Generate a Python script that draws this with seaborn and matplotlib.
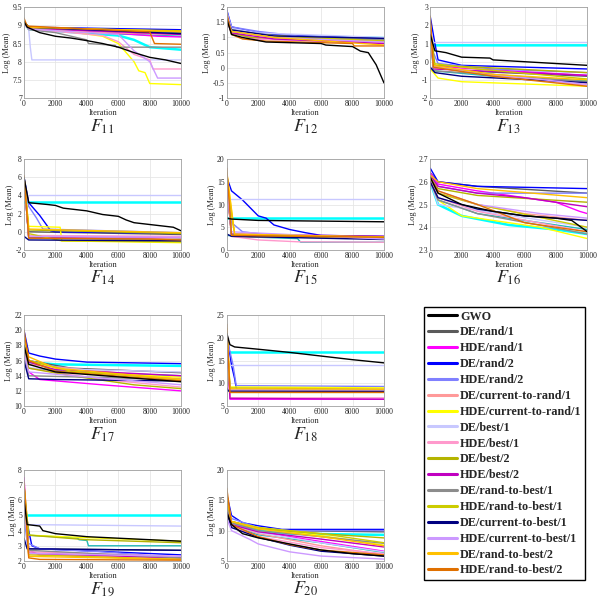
import matplotlib
matplotlib.use("Agg")
import matplotlib.pyplot as plt
from matplotlib.lines import Line2D
from matplotlib.ticker import FormatStrFormatter
import seaborn as sns
import pandas as pd
import numpy as np

SERIES = ["GWO", "DE/rand/1", "HDE/rand/1", "DE/rand/2", "HDE/rand/2",
          "DE/current-to-rand/1", "HDE/current-to-rand/1", "DE/best/1",
          "HDE/best/1", "DE/best/2", "HDE/best/2", "DE/rand-to-best/1",
          "HDE/rand-to-best/1", "DE/current-to-best/1", "HDE/current-to-best/1",
          "DE/rand-to-best/2", "HDE/rand-to-best/2", "extra-1", "extra-2"]
COLORS = ["#000000", "#5a5a5a", "#ff00ff", "#0000ff", "#8080ff",
          "#ff9999", "#ffff00", "#c8c8ff", "#ff99cc", "#b4b400",
          "#c000c0", "#8c8c8c", "#cccc00", "#000080", "#cc99ff",
          "#ffc000", "#e07000", "#00ffff", "#20b8b8"]
WIDTHS = [1.0, 1.0, 1.0, 1.0, 1.0, 1.0, 1.0, 1.0, 1.0, 1.0,
          1.0, 1.0, 1.0, 1.0, 1.0, 1.0, 1.0, 1.8, 1.0]

# curves: (iteration, log mean) breakpoints, same order as SERIES
F11 = [
    [(0, 9.1), (200, 8.95), (1000, 8.8), (2000, 8.7), (3000, 8.65), (4000, 8.58), (5000, 8.5), (6000, 8.4), (7000, 8.25), (8000, 8.12), (9000, 8.05), (10000, 7.95)],
    [(0, 9.1), (300, 8.95), (2000, 8.9), (10000, 8.8)],
    [(0, 9.1), (300, 8.92), (3000, 8.85), (6000, 8.78), (8500, 8.7), (10000, 8.68)],
    [(0, 9.1), (300, 8.95), (10000, 8.88)],
    [(0, 9.1), (300, 8.9), (4000, 8.85), (10000, 8.78)],
    [(0, 9.1), (300, 8.9), (5000, 8.8), (10000, 8.75)],
    [(0, 9.1), (300, 8.9), (3000, 8.82), (5000, 8.7), (6000, 8.5), (7000, 8.0), (7300, 7.75), (7700, 7.7), (8000, 7.4), (10000, 7.37)],
    [(0, 9.0), (300, 8.9), (400, 8.4), (500, 8.05), (10000, 8.05)],
    [(0, 9.1), (300, 8.9), (5000, 8.72), (6000, 8.55), (7000, 8.2), (8000, 8.05), (8200, 7.8), (10000, 7.8)],
    [(0, 9.1), (300, 8.95), (10000, 8.82)],
    [(0, 9.1), (300, 8.92), (10000, 8.75)],
    [(0, 9.1), (300, 8.88), (2000, 8.8), (4000, 8.6), (4100, 8.5), (5800, 8.45), (5900, 8.4), (10000, 8.4)],
    [(0, 9.1), (300, 8.93), (10000, 8.85)],
    [(0, 9.1), (300, 8.95), (10000, 8.77)],
    [(0, 9.1), (300, 8.9), (6000, 8.75), (7000, 8.3), (8000, 8.0), (8500, 7.55), (10000, 7.55)],
    [(0, 9.1), (300, 8.95), (10000, 8.83)],
    [(0, 9.2), (200, 8.98), (5000, 8.88), (8000, 8.82), (8300, 8.5), (10000, 8.48)],
    [(0, 9.1), (300, 8.9), (6000, 8.72), (7000, 8.6), (8000, 8.4), (10000, 8.33)],
    [(0, 9.1), (300, 8.9), (5000, 8.78), (10000, 8.7)],
]
F12 = [
    [(0, 1.6), (300, 1.1), (1000, 1.0), (2500, 0.85), (6000, 0.8), (6300, 0.75), (8000, 0.7), (8500, 0.55), (9000, 0.5), (9500, 0.1), (10000, -0.5)],
    [(0, 1.8), (300, 1.3), (2000, 1.1), (10000, 0.95)],
    [(0, 1.6), (300, 1.15), (2000, 0.95), (10000, 0.85)],
    [(0, 1.9), (300, 1.35), (2000, 1.15), (5000, 1.05), (10000, 0.97)],
    [(0, 1.9), (300, 1.35), (2000, 1.2), (4500, 1.05), (10000, 0.95)],
    [(0, 1.6), (300, 1.2), (3000, 1.0), (10000, 0.85)],
    [(0, 1.7), (300, 1.25), (3000, 1.05), (10000, 0.9)],
    [(0, 1.8), (300, 1.3), (2000, 1.15), (10000, 1.0)],
    [(0, 1.6), (300, 1.15), (2000, 0.95), (10000, 0.8)],
    [(0, 1.6), (300, 1.15), (1500, 1.0), (10000, 0.9)],
    [(0, 1.6), (300, 1.15), (3000, 0.95), (10000, 0.8)],
    [(0, 1.7), (300, 1.2), (3000, 1.02), (10000, 0.92)],
    [(0, 1.6), (300, 1.2), (3000, 1.05), (10000, 0.88)],
    [(0, 1.7), (300, 1.25), (3000, 1.05), (10000, 0.97)],
    [(0, 1.7), (300, 1.2), (3000, 1.0), (10000, 0.85)],
    [(0, 1.6), (300, 1.2), (3000, 1.0), (10000, 0.75)],
    [(0, 1.8), (300, 1.1), (1000, 0.95), (2500, 0.88), (8000, 0.8), (8100, 0.72), (10000, 0.72)],
    [(0, 1.7), (300, 1.25), (3000, 1.05), (10000, 0.98)],
    [(0, 1.7), (300, 1.2), (3000, 1.0), (10000, 0.9)],
]
F13 = [
    [(0, 1.5), (300, 0.6), (1000, 0.5), (2000, 0.25), (3800, 0.2), (4000, 0.1), (10000, -0.2)],
    [(0, 2.0), (200, -0.3), (2000, -0.5), (10000, -0.8)],
    [(0, 2.0), (200, -0.2), (2000, -0.35), (10000, -0.75)],
    [(0, 2.5), (300, 1.0), (500, 0.1), (2000, -0.2), (10000, -0.4)],
    [(0, 2.0), (200, 0.5), (500, -0.1), (4000, -0.4), (10000, -0.6)],
    [(0, 2.0), (200, -0.3), (4000, -0.7), (10000, -1.2)],
    [(0, -0.4), (500, -0.9), (2000, -1.1), (10000, -1.35)],
    [(0, 1.1), (10000, 1.1)],
    [(0, 2.0), (200, -0.3), (4000, -0.75), (10000, -1.3)],
    [(0, 2.0), (300, -0.2), (3000, -0.3), (10000, -0.6)],
    [(0, 2.0), (200, -0.4), (3000, -0.5), (10000, -0.75)],
    [(0, 2.0), (200, -0.5), (4000, -0.7), (10000, -1.1)],
    [(0, 2.0), (200, -0.1), (3000, -0.4), (10000, -0.95)],
    [(0, -0.3), (300, -0.6), (2000, -0.8), (10000, -1.15)],
    [(0, 2.0), (200, -0.3), (4000, -0.7), (10000, -1.25)],
    [(0, 2.3), (200, -0.2), (4000, -0.7), (10000, -1.0)],
    [(0, 2.5), (200, -0.3), (4000, -0.8), (10000, -1.35)],
    [(0, 1.5), (100, 0.9), (10000, 0.9)],
    [(0, 1.8), (200, -0.5), (4000, -0.8), (10000, -1.05)],
]
F14 = [
    [(0, 6.0), (300, 3.2), (1500, 3.0), (2000, 2.9), (2500, 2.6), (4000, 2.3), (5000, 1.9), (6000, 1.7), (6500, 1.3), (7000, 1.0), (8000, 0.8), (9500, 0.5), (10000, 0.1)],
    [(0, 6.0), (300, 0.0), (10000, -0.3)],
    [(0, 6.0), (300, -0.5), (10000, -0.6)],
    [(0, 6.0), (300, 3.2), (1000, 1.8), (1500, 0.6), (1700, 0.1), (2000, 0.0), (10000, -0.2)],
    [(0, 6.0), (300, 2.8), (800, 1.5), (1200, 0.3), (10000, -0.1)],
    [(0, 6.0), (300, -0.6), (10000, -0.8)],
    [(0, 6.0), (300, 0.6), (2300, 0.5), (2400, -1.0), (10000, -1.2)],
    [(0, 4.0), (10000, 4.0)],
    [(0, 6.0), (300, -0.4), (10000, -0.5)],
    [(0, 6.0), (300, 0.2), (10000, -0.2)],
    [(0, 6.0), (300, -0.6), (10000, -0.9)],
    [(0, 6.0), (300, -0.7), (10000, -0.9)],
    [(0, 6.0), (300, -0.2), (2400, -1.0), (10000, -1.1)],
    [(0, -0.5), (300, -0.9), (10000, -1.0)],
    [(0, 6.0), (300, -0.5), (10000, -0.6)],
    [(0, 6.0), (300, 0.3), (10000, -0.1)],
    [(0, 6.2), (300, -0.7), (8000, -0.8), (10000, -0.9)],
    [(0, 3.3), (10000, 3.3)],
    [(0, 6.0), (300, -0.6), (10000, -0.7)],
]
F15 = [
    [(0, 7.0), (300, 6.8), (2000, 6.5), (10000, 6.2)],
    [(0, 15.0), (300, 3.0), (10000, 2.6)],
    [(0, 15.0), (300, 3.2), (10000, 2.8)],
    [(0, 16.0), (300, 13.0), (1000, 11.0), (2000, 7.5), (2500, 7.0), (3000, 5.5), (4000, 4.5), (5000, 3.8), (6000, 3.2), (10000, 3.0)],
    [(0, 12.0), (300, 6.0), (1000, 4.0), (3000, 3.2), (10000, 2.6)],
    [(0, 14.0), (300, 3.0), (10000, 2.5)],
    [(0, 17.0), (500, 3.0), (10000, 2.7)],
    [(0, 11.2), (10000, 11.2)],
    [(0, 15.0), (300, 3.0), (2000, 2.2), (4500, 1.8), (10000, 1.7)],
    [(0, 15.0), (300, 3.2), (10000, 2.7)],
    [(0, 15.0), (300, 3.5), (10000, 3.0)],
    [(0, 15.0), (300, 3.3), (10000, 2.7)],
    [(0, 15.0), (500, 3.3), (10000, 2.9)],
    [(0, 3.5), (300, 3.0), (10000, 2.3)],
    [(0, 14.0), (300, 4.0), (10000, 2.4)],
    [(0, 17.0), (500, 3.5), (10000, 2.8)],
    [(0, 18.0), (300, 3.2), (10000, 2.8)],
    [(0, 7.0), (10000, 7.0)],
    [(0, 3.2), (2000, 2.8), (4500, 2.5), (4700, 1.7), (10000, 1.7)],
]
F16 = [
    [(0, 2.62), (500, 2.55), (2000, 2.5), (4000, 2.47), (6000, 2.45), (8000, 2.44), (9000, 2.43), (10000, 2.38)],
    [(0, 2.64), (500, 2.6), (3000, 2.58), (10000, 2.55)],
    [(0, 2.64), (500, 2.59), (3000, 2.56), (6000, 2.53), (8000, 2.51), (9500, 2.47), (10000, 2.46)],
    [(0, 2.66), (500, 2.6), (3000, 2.58), (10000, 2.57)],
    [(0, 2.63), (500, 2.58), (3000, 2.55), (10000, 2.55)],
    [(0, 2.62), (500, 2.55), (3000, 2.5), (6000, 2.46), (10000, 2.43)],
    [(0, 2.6), (500, 2.52), (2000, 2.45), (4000, 2.43), (7000, 2.4), (10000, 2.35)],
    [(0, 2.6), (500, 2.5), (10000, 2.4)],
    [(0, 2.61), (500, 2.53), (3000, 2.47), (10000, 2.38)],
    [(0, 2.62), (500, 2.57), (3000, 2.54), (10000, 2.51)],
    [(0, 2.63), (500, 2.58), (3000, 2.55), (6000, 2.53), (10000, 2.49)],
    [(0, 2.6), (500, 2.52), (3000, 2.46), (10000, 2.37)],
    [(0, 2.62), (500, 2.55), (3000, 2.5), (10000, 2.4)],
    [(0, 2.6), (500, 2.53), (3000, 2.48), (6000, 2.45), (10000, 2.43)],
    [(0, 2.62), (500, 2.56), (3000, 2.5), (7000, 2.46), (10000, 2.44)],
    [(0, 2.63), (500, 2.6), (3000, 2.57), (10000, 2.53)],
    [(0, 2.62), (500, 2.56), (3000, 2.5), (6000, 2.42), (10000, 2.38)],
    [(0, 2.6), (500, 2.5), (2000, 2.45), (5000, 2.41), (8000, 2.39), (10000, 2.37)],
    [(0, 2.61), (500, 2.52), (3000, 2.46), (10000, 2.39)],
]
F17 = [
    [(0, 18.0), (300, 15.5), (2000, 14.5), (10000, 13.2)],
    [(0, 18.0), (300, 16.0), (3000, 15.0), (10000, 14.4)],
    [(0, 17.0), (300, 14.5), (1000, 13.5), (5000, 12.8), (10000, 12.0)],
    [(0, 20.0), (300, 17.0), (1000, 16.6), (2000, 16.2), (4000, 15.8), (10000, 15.6)],
    [(0, 18.0), (300, 16.0), (2000, 15.2), (10000, 13.4)],
    [(0, 17.0), (300, 15.5), (10000, 13.6)],
    [(0, 18.0), (300, 16.0), (3000, 14.5), (10000, 13.8)],
    [(0, 17.0), (300, 15.0), (10000, 14.5)],
    [(0, 17.0), (300, 15.0), (5000, 13.5), (10000, 12.5)],
    [(0, 17.0), (300, 15.0), (3000, 14.0), (7000, 12.8), (10000, 12.3)],
    [(0, 18.0), (300, 15.8), (2000, 14.8), (10000, 14.0)],
    [(0, 17.0), (300, 14.0), (10000, 13.5)],
    [(0, 18.0), (300, 16.0), (3000, 14.6), (10000, 13.5)],
    [(0, 16.0), (300, 13.6), (2000, 13.5), (10000, 13.3)],
    [(0, 17.0), (300, 14.5), (10000, 12.8)],
    [(0, 19.0), (300, 16.5), (2000, 15.0), (10000, 13.5)],
    [(0, 20.0), (300, 16.0), (2000, 14.6), (10000, 13.3)],
    [(0, 18.0), (300, 15.8), (2000, 15.5), (10000, 15.3)],
    [(0, 17.0), (300, 15.0), (3000, 14.5), (10000, 14.0)],
]
F18 = [
    [(0, 21.0), (200, 18.5), (500, 18.0), (2000, 17.5), (4000, 16.8), (6000, 16.0), (8000, 15.2), (10000, 14.5)],
    [(0, 20.0), (200, 8.5), (10000, 8.5)],
    [(0, 22.0), (200, 6.5), (10000, 6.5)],
    [(0, 21.0), (300, 14.0), (500, 11.0), (600, 9.0), (700, 8.5), (10000, 8.5)],
    [(0, 20.0), (400, 14.0), (600, 9.5), (10000, 9.3)],
    [(0, 22.0), (200, 8.5), (10000, 8.4)],
    [(0, 22.0), (200, 9.2), (10000, 9.0)],
    [(0, 14.0), (10000, 14.0)],
    [(0, 20.0), (200, 6.8), (10000, 6.8)],
    [(0, 21.0), (200, 8.0), (10000, 8.0)],
    [(0, 20.0), (200, 6.7), (10000, 6.5)],
    [(0, 21.0), (200, 8.3), (10000, 8.3)],
    [(0, 22.0), (200, 9.0), (10000, 8.7)],
    [(0, 9.0), (100, 8.3), (10000, 8.2)],
    [(0, 20.0), (200, 8.6), (10000, 8.6)],
    [(0, 22.0), (200, 8.8), (10000, 8.7)],
    [(0, 23.0), (200, 8.0), (10000, 8.0)],
    [(0, 17.0), (10000, 17.0)],
    [(0, 20.0), (200, 8.4), (10000, 8.4)],
]
F19 = [
    [(0, 6.0), (200, 4.4), (1000, 4.3), (1200, 4.0), (2000, 3.8), (4000, 3.6), (6000, 3.5), (8000, 3.4), (10000, 3.3)],
    [(0, 6.0), (300, 2.8), (10000, 2.7)],
    [(0, 7.5), (300, 2.7), (1000, 2.4), (10000, 2.2)],
    [(0, 6.0), (300, 4.0), (500, 3.0), (1000, 2.8), (10000, 2.4)],
    [(0, 5.0), (200, 3.2), (1000, 2.8), (5000, 2.6), (10000, 2.2)],
    [(0, 6.0), (300, 2.5), (10000, 2.1)],
    [(0, 7.0), (300, 3.7), (2500, 3.6), (10000, 3.3)],
    [(0, 4.4), (10000, 4.3)],
    [(0, 6.0), (300, 2.6), (10000, 2.3)],
    [(0, 7.0), (300, 3.7), (4000, 3.4), (10000, 3.2)],
    [(0, 7.0), (300, 2.5), (10000, 2.2)],
    [(0, 6.0), (300, 2.7), (10000, 2.2)],
    [(0, 7.0), (300, 2.4), (10000, 2.1)],
    [(0, 3.5), (200, 2.8), (10000, 2.7)],
    [(0, 6.0), (300, 2.5), (10000, 2.3)],
    [(0, 7.0), (300, 2.3), (10000, 2.1)],
    [(0, 7.2), (300, 2.2), (1000, 2.1), (10000, 2.05)],
    [(0, 5.0), (10000, 5.0)],
    [(0, 5.0), (200, 3.7), (2000, 3.6), (3400, 3.5), (3500, 3.4), (4000, 3.35), (4100, 3.0), (10000, 3.0)],
]
F20 = [
    [(0, 13.0), (300, 11.0), (1000, 9.5), (2000, 8.8), (4000, 7.8), (6000, 6.8), (8000, 6.2), (10000, 5.8)],
    [(0, 14.0), (300, 11.5), (2000, 10.3), (4000, 10.0), (10000, 9.8)],
    [(0, 14.0), (300, 11.0), (2000, 9.8), (6000, 8.2), (10000, 6.6)],
    [(0, 16.0), (300, 12.5), (1000, 11.3), (2000, 10.8), (3500, 10.2), (10000, 10.2)],
    [(0, 15.0), (300, 12.0), (2000, 10.5), (4000, 10.0), (10000, 10.0)],
    [(0, 13.0), (300, 11.0), (2000, 9.5), (6000, 7.5), (10000, 6.0)],
    [(0, 15.0), (300, 11.5), (2000, 10.5), (6000, 9.2), (10000, 7.6)],
    [(0, 13.0), (300, 11.0), (2000, 9.7), (6000, 8.0), (10000, 6.5)],
    [(0, 13.0), (300, 10.8), (2000, 9.0), (6000, 7.2), (10000, 6.2)],
    [(0, 14.0), (300, 11.5), (2000, 10.3), (6000, 9.5), (10000, 8.8)],
    [(0, 14.0), (300, 11.0), (2000, 9.8), (6000, 8.6), (10000, 7.3)],
    [(0, 14.0), (300, 11.3), (2000, 10.0), (6000, 9.0), (10000, 7.9)],
    [(0, 15.0), (300, 11.5), (2000, 10.5), (6000, 9.5), (10000, 8.0)],
    [(0, 13.0), (300, 10.5), (2000, 8.9), (4000, 7.6), (6000, 6.6), (10000, 5.8)],
    [(0, 12.0), (300, 10.0), (1500, 8.5), (2000, 7.8), (4000, 6.5), (6000, 5.8), (10000, 5.3)],
    [(0, 16.0), (300, 11.5), (2000, 10.3), (6000, 9.0), (10000, 7.5)],
    [(0, 17.0), (300, 11.0), (2000, 9.0), (4000, 7.7), (6000, 6.8), (10000, 6.0)],
    [(0, 14.0), (300, 11.2), (2000, 10.0), (4000, 9.5), (10000, 9.3)],
    [(0, 13.0), (300, 10.8), (2000, 9.3), (6000, 8.0), (10000, 6.4)],
]

FUNCS = ["11", "12", "13", "14", "15", "16", "17", "18", "19", "20"]
CURVES = [F11, F12, F13, F14, F15, F16, F17, F18, F19, F20]
YLIMS = [(7, 9.5), (-1, 2), (-2, 3), (-2, 8), (0, 20), (2.3, 2.7),
         (10, 22), (5, 25), (2, 8), (5, 20)]
YSTEPS = [0.5, 0.5, 1, 2, 5, 0.1, 2, 5, 1, 5]
XTICKS = [0, 2000, 4000, 6000, 8000, 10000]

sns.set_style("white")
plt.rcParams["font.family"] = ["Liberation Serif", "DejaVu Serif"]
plt.rcParams["mathtext.fontset"] = "stix"

rows = []
for f, curves in zip(FUNCS, CURVES):
    for s, pts in zip(SERIES, curves):
        for x, y in pts:
            rows.append((f, s, x, y))
df = pd.DataFrame(rows, columns=["func", "series", "iter", "val"])

fig = plt.figure(figsize=(6.0, 5.98), dpi=100)
col_left = [0.040, 0.378, 0.717]
row_bottom = [0.836, 0.582, 0.321, 0.062]
W, H = 0.262, 0.152
positions = [(0, 0), (0, 1), (0, 2), (1, 0), (1, 1), (1, 2),
             (2, 0), (2, 1), (3, 0), (3, 1)]

draw_order = [17, 18] + list(range(1, 17)) + [0]

for k, (f, (r, c)) in enumerate(zip(FUNCS, positions)):
    ax = fig.add_axes([col_left[c], row_bottom[r], W, H])
    sub = df[df["func"] == f]
    for i in draw_order:
        d = sub[sub["series"] == SERIES[i]]
        sns.lineplot(data=d, x="iter", y="val", color=COLORS[i], lw=WIDTHS[i],
                     estimator=None, sort=False, ax=ax, legend=False)
    lo, hi = YLIMS[k]
    ax.set_xlim(0, 10000)
    ax.set_ylim(lo, hi)
    ax.set_xticks(XTICKS)
    ax.set_yticks(np.round(np.arange(lo, hi + 1e-9, YSTEPS[k]), 3))
    ax.yaxis.set_major_formatter(FormatStrFormatter("%g"))
    ax.grid(True, color="#e6e6e6", lw=0.6)
    ax.tick_params(labelsize=5.5, length=0, pad=1.5, colors="#222222")
    for sp in ax.spines.values():
        sp.set_color("#a0a0a0")
        sp.set_linewidth(0.6)
    ax.set_xlabel("Iteration", fontsize=6, labelpad=0.5)
    ax.set_ylabel("Log (Mean)", fontsize=6, labelpad=1)
    ax.text(0.5, -0.21, r"$F_{%s}$" % f, transform=ax.transAxes,
            ha="center", va="top", fontsize=13)

handles = [Line2D([0], [0], color=COLORS[i], lw=2.2) for i in range(17)]
leg = fig.legend(handles, SERIES[:17], loc="upper left",
                 bbox_to_anchor=(424 / 600, 1 - 307 / 598),
                 prop={"family": "Liberation Serif", "weight": "bold", "size": 8.7},
                 frameon=True, fancybox=False, framealpha=1, edgecolor="black",
                 borderpad=0.3, labelspacing=0.32, handlelength=2.4,
                 handletextpad=0.3, borderaxespad=0)
leg.get_frame().set_linewidth(1.0)

fig.savefig("out.png", dpi=100)
